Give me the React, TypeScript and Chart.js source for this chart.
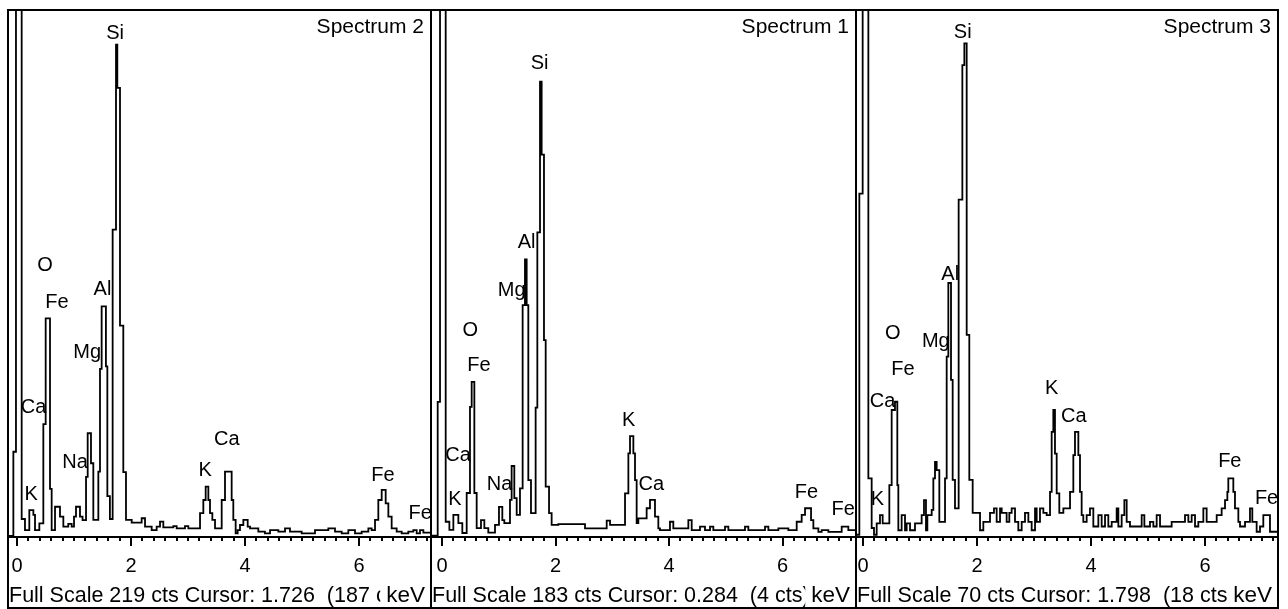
import React, { useEffect, useRef } from 'react';
import { Chart, registerables } from 'chart.js';

Chart.register(...registerables);

// ---------- DATA (bin start energy in keV, counts) ----------
const P1_KEV = [-0.14, -0.064, -0.018, 0.082, 0.14, 0.216, 0.287, 0.316, 0.392, 0.462, 0.503, 0.579, 0.608, 0.667, 0.754, 0.813, 0.9, 0.959, 1.0, 1.035, 1.105, 1.15, 1.211, 1.24, 1.298, 1.339, 1.427, 1.456, 1.485, 1.56, 1.585, 1.63, 1.678, 1.737, 1.76, 1.807, 1.865, 1.912, 2.012, 2.187, 2.246, 2.363, 2.45, 2.509, 2.567, 2.743, 2.801, 2.947, 3.006, 3.211, 3.269, 3.31, 3.357, 3.386, 3.427, 3.474, 3.591, 3.649, 3.766, 3.795, 3.836, 3.871, 3.912, 3.971, 4.047, 4.088, 4.234, 4.35, 4.439, 4.585, 4.702, 4.789, 4.994, 5.228, 5.462, 5.579, 5.696, 5.813, 5.93, 6.047, 6.164, 6.222, 6.281, 6.339, 6.398, 6.468, 6.515, 6.573, 6.661, 6.749, 6.865, 6.953, 7.012, 7.07, 7.129, 7.25];
const P1_CTS = [0.5, 35.5, 400, 7.5, 2.9, 11.2, 9.2, 2.9, 5.7, 47, 91, 20, 2.9, 12.6, 8.5, 4.3, 5.5, 4.3, 8.5, 12.6, 8.5, 7, 25, 43.2, 30.7, 7.1, 27.2, 70, 96, 71, 17, 7.5, 128, 205, 187, 88, 27, 7.1, 6, 7.8, 4.3, 2.9, 4.3, 6.4, 4, 4.5, 3.6, 4.5, 3.6, 9.9, 15.4, 21, 15.4, 9.9, 7.1, 3.6, 15.4, 27.2, 15.4, 7.1, 1.5, 2.9, 5, 7.1, 4.3, 3.6, 2.2, 1.5, 2.9, 2.2, 3.6, 2.2, 1.5, 2.9, 3.6, 2.2, 1.5, 2.9, 1.5, 2.2, 3.6, 2.9, 7.1, 15.4, 19.6, 14, 8.5, 3.6, 2.2, 1.5, 2.2, 2.9, 1.5, 2.9, 1.8, 1.8];

const P2_KEV = [-0.18, -0.076, -0.035, 0.065, 0.13, 0.2, 0.288, 0.358, 0.435, 0.493, 0.523, 0.57, 0.611, 0.687, 0.746, 0.816, 0.934, 1.004, 1.063, 1.098, 1.198, 1.227, 1.274, 1.316, 1.374, 1.421, 1.462, 1.492, 1.521, 1.568, 1.65, 1.68, 1.727, 1.756, 1.797, 1.827, 1.886, 1.932, 2.05, 2.52, 2.902, 2.961, 3.225, 3.284, 3.313, 3.372, 3.401, 3.43, 3.46, 3.606, 3.665, 3.753, 3.812, 3.841, 4.017, 4.076, 4.341, 4.4, 4.546, 4.634, 4.723, 4.781, 4.987, 5.046, 5.339, 5.398, 5.692, 5.751, 5.927, 6.103, 6.25, 6.338, 6.397, 6.503, 6.544, 6.632, 6.691, 6.808, 7.043, 7.16, 7.28];
const P2_CTS = [0.5, 47, 400, 5.3, 2.5, 7.7, 4.8, 1.4, 15.3, 45.3, 54, 15.3, 3.1, 5.9, 3.1, 1.5, 4.2, 10.5, 5.9, 4.8, 12.9, 24.7, 13.5, 7.7, 16.9, 80.7, 96.6, 80.7, 19.8, 8.3, 45, 106, 158.4, 133, 68.5, 17.5, 8.3, 4.2, 4.5, 3.0, 5.7, 4.2, 15.2, 29.1, 35.1, 29.1, 19.8, 4.8, 6.5, 10, 12.9, 7.1, 3.0, 2.4, 5.3, 3.0, 5.9, 2.4, 3.6, 2.4, 3.6, 2.4, 3.6, 2.4, 3.6, 2.4, 3.6, 2.4, 3.0, 2.4, 5.3, 7.7, 10, 5.9, 3.0, 1.8, 2.4, 1.8, 3.6, 2.4, 2.4];

const P3_KEV = [-0.11, -0.064, -0.006, 0.094, 0.152, 0.193, 0.24, 0.298, 0.345, 0.462, 0.503, 0.561, 0.602, 0.62, 0.678, 0.737, 0.766, 0.825, 0.912, 1.029, 1.07, 1.105, 1.129, 1.205, 1.234, 1.263, 1.292, 1.339, 1.439, 1.468, 1.497, 1.544, 1.573, 1.614, 1.678, 1.743, 1.778, 1.819, 1.865, 1.924, 2.053, 2.111, 2.228, 2.298, 2.345, 2.404, 2.433, 2.52, 2.567, 2.608, 2.667, 2.725, 2.784, 2.842, 2.901, 2.959, 3.018, 3.047, 3.105, 3.164, 3.222, 3.281, 3.31, 3.339, 3.368, 3.398, 3.444, 3.515, 3.632, 3.69, 3.719, 3.778, 3.807, 3.836, 3.865, 3.924, 3.982, 4.041, 4.129, 4.187, 4.246, 4.304, 4.363, 4.45, 4.48, 4.538, 4.585, 4.626, 4.684, 4.889, 4.936, 5.035, 5.094, 5.152, 5.211, 5.415, 5.649, 5.708, 5.766, 5.825, 5.883, 5.971, 6.029, 6.205, 6.292, 6.351, 6.392, 6.409, 6.497, 6.526, 6.585, 6.614, 6.702, 6.789, 6.83, 6.906, 6.965, 7.023, 7.14, 7.27];
const P3_CTS = [0.3, 45.7, 200, 7.8, 1.2, 0.3, 1.8, 2.9, 1.8, 6.9, 16.9, 18, 6.9, 0.9, 2.9, 0.9, 1.8, 0.9, 1.8, 2.9, 4.9, 0.9, 2.9, 3.6, 7.8, 10, 8.9, 2.0, 7.8, 24, 33.8, 20.9, 7.6, 3.8, 44.9, 62.8, 65.7, 26.9, 7.6, 3.2, 0.9, 2.0, 3.2, 3.8, 2.0, 3.8, 3.2, 2.0, 3.2, 3.8, 2.0, 0.9, 2.0, 3.2, 2.0, 0.9, 3.8, 2.0, 3.8, 3.2, 2.9, 6.0, 14, 16.9, 11.1, 5.8, 3.2, 3.8, 6.0, 10.9, 14, 10.9, 6.0, 2.9, 2.0, 2.9, 3.8, 1.4, 2.9, 1.4, 2.9, 1.4, 2.0, 3.8, 1.4, 2.9, 4.9, 2.0, 1.4, 2.9, 1.4, 2.0, 1.4, 2.9, 1.4, 2.0, 2.9, 2.0, 2.9, 1.4, 2.0, 3.8, 2.0, 2.9, 3.8, 4.9, 6.0, 7.8, 6.0, 3.8, 2.0, 1.4, 2.0, 3.8, 2.0, 0.7, 1.4, 2.9, 0.7, 0.7];

// Peak labels: text, energy (keV) and counts of the label centre
const P1_LABELS = ['Si', 'O', 'Fe', 'Al', 'Mg', 'Ca', 'Na', 'K', 'K', 'Ca', 'Fe', 'Fe'];
const P1_LABEL_KEV = [1.72, 0.49, 0.70, 1.50, 1.23, 0.29, 1.02, 0.25, 3.30, 3.68, 6.42, 7.075];
const P1_LABEL_CTS = [209.8, 113, 97.6, 103, 77, 53.9, 31.2, 17.9, 27.6, 40.4, 25.8, 9.6];

const P2_LABELS = ['Si', 'Al', 'Mg', 'O', 'Fe', 'Ca', 'Na', 'K', 'K', 'Ca', 'Fe', 'Fe'];
const P2_LABEL_KEV = [1.72, 1.49, 1.228, 0.497, 0.652, 0.282, 1.013, 0.229, 3.29, 3.688, 6.423, 7.07];
const P2_LABEL_CTS = [164.6, 102.5, 85.6, 72, 59.5, 28.2, 18.4, 13.2, 40.7, 18.4, 15.5, 9.7];

const P3_LABELS = ['Si', 'Al', 'Mg', 'O', 'Fe', 'Ca', 'K', 'K', 'Ca', 'Fe', 'Fe'];
const P3_LABEL_KEV = [1.75, 1.53, 1.278, 0.523, 0.70, 0.342, 0.251, 3.31, 3.70, 6.435, 7.08];
const P3_LABEL_CTS = [67.1, 35, 26, 27.1, 22.3, 18.1, 5.0, 19.7, 16.1, 10, 5.1];

const TITLES = ['Spectrum 2', 'Spectrum 1', 'Spectrum 3'];
const FULL_SCALES = [219, 183, 70];
const FOOTERS = [
  'Full Scale 219 cts Cursor: 1.726  (187 cts)',
  'Full Scale 183 cts Cursor: 0.284  (4 cts)',
  'Full Scale 70 cts Cursor: 1.798  (18 cts)',
];
const UNIT = 'keV';
const TICK_VALUES = [0, 2, 4, 6];
const TICK_LABELS = ['0', '2', '4', '6'];
const MINOR_STEP = 0.2;

const FONT = '"Liberation Sans", Arial, sans-serif';

// ---------- layout ----------
const TOP = 11;
const CANVAS_H = 596;
const BOTTOM_PAD = 70;

type PanelProps = {
  left: number;
  width: number;
  zeroPx: number;
  pxPerKeV: number;
  kev: number[];
  cts: number[];
  fullScale: number;
  labels: string[];
  labelKev: number[];
  labelCts: number[];
  title: string;
  footer: string;
};

function Panel(p: PanelProps) {
  const ref = useRef<HTMLCanvasElement | null>(null);
  useEffect(() => {
    const canvas = ref.current;
    if (!canvas) return;
    const min = (p.left - p.zeroPx) / p.pxPerKeV;
    const max = (p.left + p.width - p.zeroPx) / p.pxPerKeV;

    const overlay = {
      id: 'edsOverlay',
      afterDraw(chart: any) {
        const ctx = chart.ctx as CanvasRenderingContext2D;
        const xs = chart.scales.x;
        const ys = chart.scales.y;
        const W = chart.width;
        const y0 = Math.round(ys.getPixelForValue(0));
        ctx.save();
        ctx.fillStyle = '#000';
        // axis line
        ctx.fillRect(0, y0 - 1, W, 2);
        // ticks
        const n = Math.floor(xs.max / MINOR_STEP + 1e-6);
        for (let i = 0; i <= n; i++) {
          const v = i * MINOR_STEP;
          const px = Math.round(xs.getPixelForValue(v));
          const major = TICK_VALUES.some((t) => Math.abs(t - v) < 1e-6);
          ctx.fillRect(px - 1, y0 + 1, 2, major ? 8 : 3);
        }
        // tick labels
        ctx.font = '20px ' + FONT;
        ctx.textAlign = 'center';
        ctx.textBaseline = 'alphabetic';
        TICK_VALUES.forEach((v, i) => {
          ctx.fillText(TICK_LABELS[i], xs.getPixelForValue(v), 561);
        });
        // peak labels
        ctx.textBaseline = 'middle';
        p.labels.forEach((t, i) => {
          ctx.fillText(t, xs.getPixelForValue(p.labelKev[i]), ys.getPixelForValue(p.labelCts[i]));
        });
        // title
        ctx.textBaseline = 'alphabetic';
        ctx.textAlign = 'right';
        ctx.font = '21px ' + FONT;
        ctx.fillText(p.title, W - 6, 22);
        // footer
        ctx.textAlign = 'left';
        ctx.font = '21.5px ' + FONT;
        ctx.fillText(p.footer, 0, 591);
        ctx.font = '22.5px ' + FONT;
        const kw = ctx.measureText(UNIT).width;
        const kx = W - 5 - kw;
        ctx.fillStyle = '#fff';
        ctx.fillRect(kx - 6, 572, kw + 11, 24);
        ctx.fillStyle = '#000';
        ctx.fillText(UNIT, kx, 591);
        ctx.restore();
      },
    };

    const chart = new Chart(canvas, {
      type: 'line',
      data: {
        datasets: [
          {
            data: p.kev.map((x, i) => ({ x, y: p.cts[i] })),
            stepped: true,
            borderColor: '#000',
            borderWidth: 1.8,
            pointRadius: 0,
            fill: false,
            tension: 0,
          },
        ],
      },
      options: {
        animation: false,
        responsive: false,
        maintainAspectRatio: false,
        events: [],
        layout: { padding: { top: 0, left: 0, right: 0, bottom: BOTTOM_PAD } },
        plugins: { legend: { display: false }, tooltip: { enabled: false }, title: { display: false } },
        scales: {
          x: { type: 'linear', min, max, display: false },
          y: { type: 'linear', min: 0, max: p.fullScale, display: false },
        },
      },
      plugins: [overlay],
    } as any);
    return () => chart.destroy();
  }, []);
  return (
    <canvas
      ref={ref}
      width={p.width}
      height={CANVAS_H}
      style={{ position: 'absolute', left: p.left, top: TOP, width: p.width, height: CANVAS_H, display: 'block' }}
    />
  );
}

export default function App() {
  return (
    <div style={{ position: 'absolute', left: 0, top: 0, width: 1288, height: 609, background: '#fff', overflow: 'hidden' }}>
      <div
        style={{
          position: 'absolute',
          left: 7,
          top: 9,
          width: 1272,
          height: 600,
          border: '2px solid #000',
          boxSizing: 'border-box',
        }}
      />
      <div style={{ position: 'absolute', left: 430, top: 9, width: 2, height: 600, background: '#000' }} />
      <div style={{ position: 'absolute', left: 855, top: 9, width: 2, height: 600, background: '#000' }} />
      <Panel left={9} width={421} zeroPx={17} pxPerKeV={57} kev={P1_KEV} cts={P1_CTS} fullScale={FULL_SCALES[0]}
        labels={P1_LABELS} labelKev={P1_LABEL_KEV} labelCts={P1_LABEL_CTS} title={TITLES[0]} footer={FOOTERS[0]} />
      <Panel left={432} width={423} zeroPx={442} pxPerKeV={56.75} kev={P2_KEV} cts={P2_CTS} fullScale={FULL_SCALES[1]}
        labels={P2_LABELS} labelKev={P2_LABEL_KEV} labelCts={P2_LABEL_CTS} title={TITLES[1]} footer={FOOTERS[1]} />
      <Panel left={857} width={420} zeroPx={863} pxPerKeV={57} kev={P3_KEV} cts={P3_CTS} fullScale={FULL_SCALES[2]}
        labels={P3_LABELS} labelKev={P3_LABEL_KEV} labelCts={P3_LABEL_CTS} title={TITLES[2]} footer={FOOTERS[2]} />
    </div>
  );
}
